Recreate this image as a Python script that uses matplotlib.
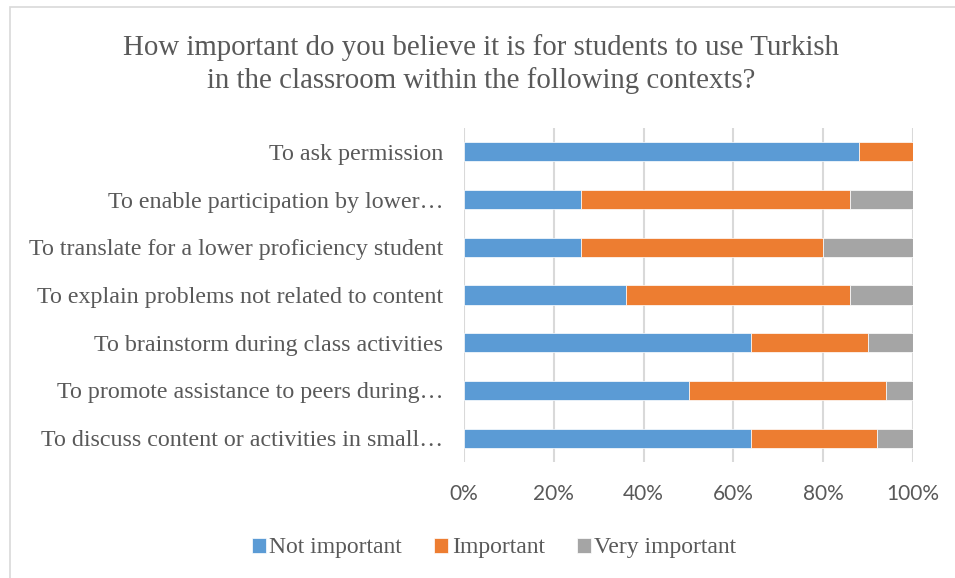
import matplotlib
matplotlib.use("Agg")
import matplotlib.pyplot as plt
from matplotlib.patches import Rectangle
from matplotlib.ticker import PercentFormatter

categories = [
    "To ask permission",
    "To enable participation by lower\u2026",
    "To translate for a lower proficiency student",
    "To explain problems not related to content",
    "To brainstorm during class activities",
    "To promote assistance to peers during\u2026",
    "To discuss content or activities in small\u2026",
]
not_important = [88, 26, 26, 36, 64, 50, 64]
important = [12, 60, 54, 50, 26, 44, 28]
very_important = [0, 14, 20, 14, 10, 6, 8]
series_names = ["Not important", "Important", "Very important"]
colors = ["#5B9BD5", "#ED7D31", "#A5A5A5"]
xticks = [0, 20, 40, 60, 80, 100]

W, H = 955, 578
fig = plt.figure(figsize=(W / 100, H / 100), dpi=100)
fig.patch.set_facecolor("white")

# outer chart frame
fig.patches.append(Rectangle((10 / W, -0.1), 1.2, 1.1 - 7 / H, transform=fig.transFigure,
                             fill=False, edgecolor="#D9D9D9", linewidth=1.2))

ax = fig.add_axes([464 / W, 1 - 462 / H, (913 - 464) / W, (462 - 128) / H])

ypos = list(range(len(categories)))
left = [0] * len(categories)
for name, vals, c in zip(series_names, [not_important, important, very_important], colors):
    ax.barh(ypos, vals, left=left, height=0.4, color=c, label=name, zorder=3,
            edgecolor="white", linewidth=0.5)
    left = [a + b for a, b in zip(left, vals)]

ax.set_ylim(len(categories) - 0.5, -0.5)
ax.set_xlim(0, 100)
ax.set_xticks(xticks)
ax.xaxis.set_major_formatter(PercentFormatter(decimals=0))
ax.grid(axis="x", color="#D9D9D9", linewidth=1.5, zorder=0)
for s in ax.spines.values():
    s.set_visible(False)
ax.tick_params(axis="both", length=0)
ax.tick_params(axis="x", pad=16, labelsize=15, labelcolor="#595959")
ax.tick_params(axis="y", pad=15, labelsize=17.3, labelcolor="#595959")
for lab in ax.get_xticklabels():
    lab.set_family(["Lato", "DejaVu Sans"])
ax.set_yticks(ypos)
ax.set_yticklabels(categories, family=["Liberation Serif", "DejaVu Serif"])

fig.text(481 / W, 1 - 64 / H,
         "How important do you believe it is for students to use Turkish\nin the classroom within the following contexts?",
         ha="center", va="center", fontsize=20.8, color="#595959",
         family=["Liberation Serif", "DejaVu Serif"], linespacing=1.32)

leg = fig.legend(loc="center", bbox_to_anchor=(494 / W, 1 - 548 / H), ncol=3, frameon=False,
                 prop={"family": ["Liberation Serif", "DejaVu Serif"], "size": 17},
                 handlelength=0.6, handleheight=0.6, handletextpad=0.15, columnspacing=1.35)
for t in leg.get_texts():
    t.set_color("#595959")

fig.savefig("out.png", dpi=100, facecolor="white")
